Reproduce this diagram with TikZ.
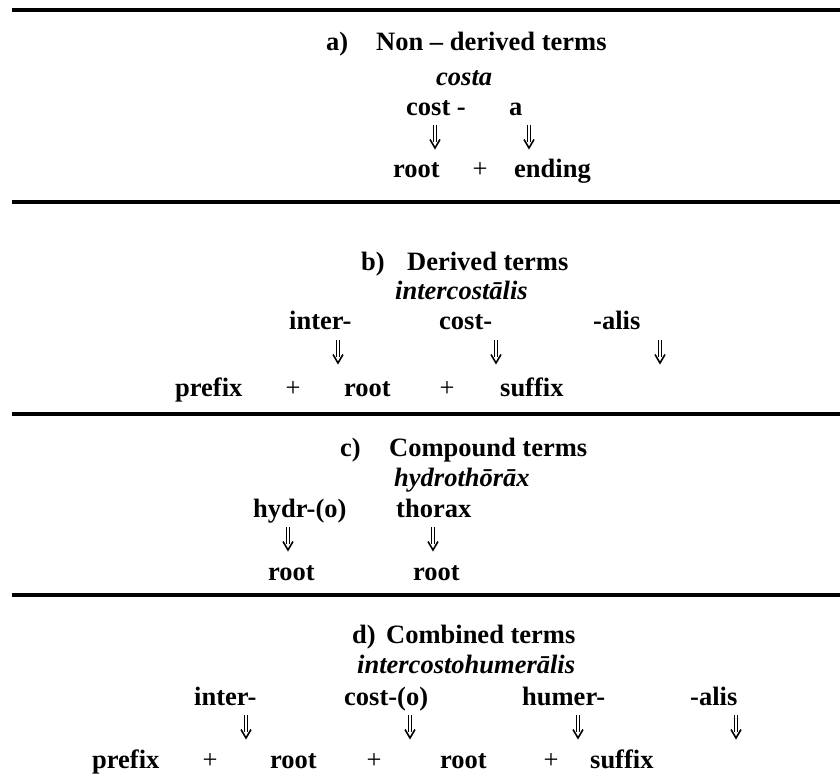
\documentclass[tikz,border=0pt]{standalone}
\usepackage{fontspec}
\setmainfont{Liberation Serif}
\begin{document}
\begin{tikzpicture}[x=1bp,y=-1bp,
  t/.style={anchor=base west,inner sep=0pt,font=\fontsize{26.5bp}{30bp}\selectfont\bfseries},
  ti/.style={anchor=base west,inner sep=0pt,font=\fontsize{26.5bp}{30bp}\selectfont\bfseries\itshape},
  pl/.style={anchor=base,inner sep=0pt,font=\fontsize{26.5bp}{30bp}\selectfont},
  rule/.style={line width=4bp},
  darrow/.pic={
    \draw[line width=1.3bp] (-1.8,0) -- (-1.8,17) (1.8,0) -- (1.8,17);
    \draw[line width=1.6bp,line join=miter,line cap=butt] (-5,14.5) -- (0,23) -- (5,14.5);
  }]
\useasboundingbox (0,0) rectangle (840,783);
% rules
\draw[rule] (12,10) -- (840,10);
\draw[rule] (12,202) -- (840,202);
\draw[rule] (12,414) -- (840,414);
\draw[rule] (12,595) -- (840,595);
% a) Non-derived
\node[t] (at1) at (326,51) {a)};
\node[t] (at2) at (376,51) {Non – derived terms};
\node[ti] (aw) at (436,85) {costa};
\node[t] (ap1) at (406,115) {cost -};
\node[t] (ap2) at (509,115) {a};
\pic at (435,125) {darrow};
\pic at (529,125) {darrow};
\node[t] (ar1) at (393,177) {root};
\node[pl] (aplus) at (480,177) {+};
\node[t] (ar2) at (514,177) {ending};
% b) Derived
\node[t] (bt1) at (361,270) {b)};
\node[t] (bt2) at (407,270) {Derived terms};
\node[ti] (bw) at (395,299) {intercostālis};
\node[t] (bp1) at (289,329) {inter-};
\node[t] (bp2) at (439,329) {cost-};
\node[t] (bp3) at (593,329) {-alis};
\pic at (338,340) {darrow};
\pic at (496,340) {darrow};
\pic at (660,340) {darrow};
\node[t] (br1) at (175,396) {prefix};
\node[pl] (bplus1) at (293,396) {+};
\node[t] (br2) at (344,396) {root};
\node[pl] (bplus2) at (447,396) {+};
\node[t] (br3) at (500,396) {suffix};
% c) Compound
\node[t] (ct1) at (340,456) {c)};
\node[t] (ct2) at (389,456) {Compound terms};
\node[ti] (cw) at (394,486) {hydrothōrāx};
\node[t] (cp1) at (253,517) {hydr-(o)};
\node[t] (cp2) at (396,517) {thorax};
\pic at (288,527) {darrow};
\pic at (433,527) {darrow};
\node[t] (cr1) at (268,580) {root};
\node[t] (cr2) at (413,580) {root};
% d) Combined
\node[t] (dt1) at (352,643) {d)};
\node[t] (dt2) at (386,643) {Combined terms};
\node[ti] (dw) at (357,673) {intercostohumerālis};
\node[t] (dp1) at (194,705) {inter-};
\node[t] (dp2) at (344,705) {cost-(o)};
\node[t] (dp3) at (522,705) {humer-};
\node[t] (dp4) at (690,705) {-alis};
\pic at (246,715) {darrow};
\pic at (410,715) {darrow};
\pic at (578,715) {darrow};
\pic at (736,715) {darrow};
\node[t] (dr1) at (92,768) {prefix};
\node[pl] (dplus1) at (210,768) {+};
\node[t] (dr2) at (270,768) {root};
\node[pl] (dplus2) at (374,768) {+};
\node[t] (dr3) at (440,768) {root};
\node[pl] (dplus3) at (551,768) {+};
\node[t] (dr4) at (590,768) {suffix};
\end{tikzpicture}
\end{document}
